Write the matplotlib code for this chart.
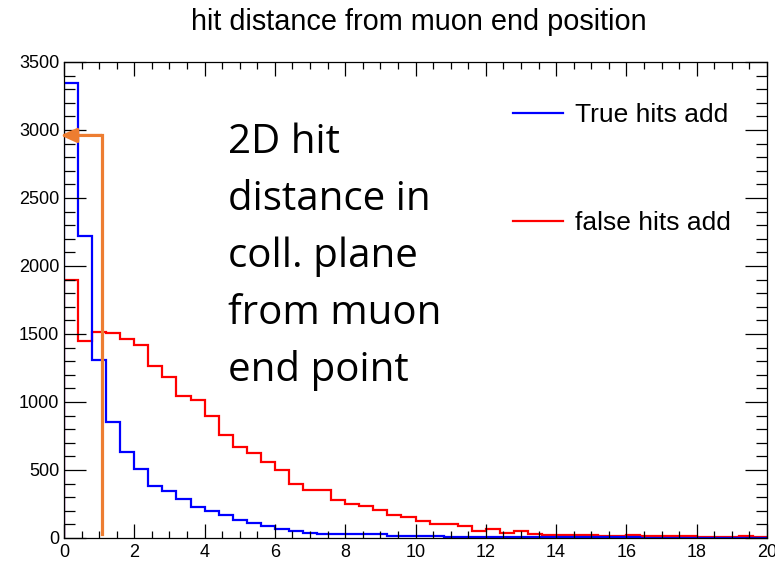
import matplotlib.pyplot as plt
import numpy as np
from matplotlib.ticker import MultipleLocator

# 50 bins of 0.4 between 0 and 20
bin_width = 0.4
bin_edges = np.arange(51) * bin_width

true_hits = [3345, 2218, 1311, 856, 632, 509, 379, 347, 288, 231,
             199, 170, 133, 112, 87, 68, 48, 38, 28, 28,
             28, 28, 28, 13, 13, 13, 18, 9, 9, 8,
             8, 7, 7, 6, 6, 6, 5, 5, 5, 4,
             4, 3, 3, 3, 2, 2, 2, 2, 2, 2]
false_hits = [1900, 1451, 1512, 1505, 1465, 1418, 1268, 1185, 1047, 1012,
              897, 760, 668, 622, 556, 502, 399, 354, 354, 283,
              250, 233, 205, 170, 153, 122, 105, 105, 85, 48,
              68, 40, 50, 31, 24, 24, 24, 24, 13, 13,
              24, 13, 13, 13, 13, 4, 4, 4, 13, 4]

cut_x = 1.07
cut_top = 2960
cut_bottom = 27
arrow_tip_x = -0.1

note_lines = ['2D hit', 'distance in', 'coll. plane', 'from muon', 'end point']

orange = '#ED7D31'
root_font = 'Liberation Sans'

fig = plt.figure(figsize=(7.75, 5.62), dpi=100)
ax = fig.add_axes([64 / 775, 1 - 538 / 562, 703 / 775, 476 / 562])

ax.stairs(false_hits, bin_edges, color='#FF0000', lw=1.6, label='false hits add')
ax.stairs(true_hits, bin_edges, color='#0000FF', lw=1.6, label='True hits add')

# orange cut marker with arrow pointing at the y axis
ax.plot([cut_x, cut_x], [cut_bottom, cut_top], color=orange, lw=2.3,
        solid_capstyle='projecting', zorder=5)
ax.annotate('', xy=(arrow_tip_x, cut_top), xytext=(cut_x, cut_top),
            arrowprops=dict(arrowstyle='-|>,head_length=0.6,head_width=0.27',
                            color=orange, lw=2.3, mutation_scale=16,
                            shrinkA=0, shrinkB=0),
            annotation_clip=False, zorder=5)

ax.set_xlim(0, 20)
ax.set_ylim(0, 3500)
ax.xaxis.set_major_locator(MultipleLocator(2))
ax.xaxis.set_minor_locator(MultipleLocator(0.5))
ax.yaxis.set_major_locator(MultipleLocator(500))
ax.yaxis.set_minor_locator(MultipleLocator(100))

ax.tick_params(axis='both', which='both', direction='in', top=True, right=True,
               width=0.9, colors='black')
ax.tick_params(axis='x', which='major', length=10, pad=4.5)
ax.tick_params(axis='x', which='minor', length=5)
ax.tick_params(axis='y', which='major', length=16, pad=3.4)
ax.tick_params(axis='y', which='minor', length=8)
for lab in ax.get_xticklabels() + ax.get_yticklabels():
    lab.set_fontfamily(root_font)
    lab.set_fontsize(13)
for sp in ax.spines.values():
    sp.set_linewidth(0.9)

fig.text(419 / 775, 1 - 22 / 562, 'hit distance from muon end position',
         ha='center', va='center', fontsize=20.8, family=root_font)

leg = ax.legend(handles=[ax.patches[1], ax.patches[0]], loc='upper left',
                bbox_to_anchor=((513 - 64) / 703, (538 - 103) / 476),
                frameon=False, borderpad=0, borderaxespad=0,
                handlelength=1.9, handletextpad=0.45, labelspacing=3.18,
                prop={'family': root_font, 'size': 19})
for h in leg.legend_handles:
    h.set_linewidth(1.6)

for i, line in enumerate(note_lines):
    ax.text((228 - 64) / 703, (538 - 153 - 57 * i) / 476, line,
            transform=ax.transAxes, ha='left', va='baseline',
            fontsize=29, family='Open Sans', color='black')

fig.savefig('out.png', dpi=100)
